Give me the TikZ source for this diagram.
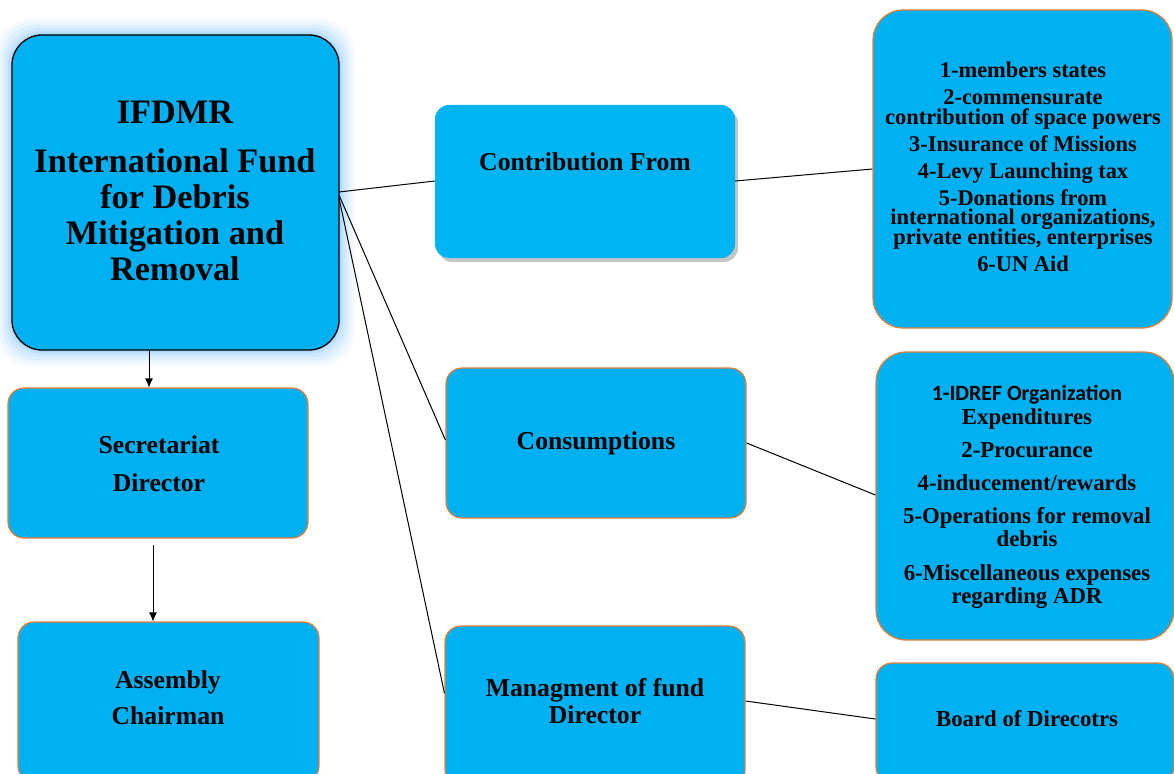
\documentclass[tikz,border=0pt]{standalone}
\usepackage{fontspec}
\setmainfont{Liberation Serif}
\newfontfamily\calib{Carlito}
\usetikzlibrary{shadows,arrows.meta}
\newcommand\tightlines{\setlength{\lineskiplimit}{-100pt}}
\definecolor{boxblue}{RGB}{0,176,240}
\definecolor{boxorange}{RGB}{237,125,49}
\definecolor{glowblue}{RGB}{150,205,250}
\tikzset{
  box/.style={draw=boxorange, line width=1.2pt, fill=boxblue, rounded corners=16pt, inner sep=0pt},
  mainbox/.style={draw=black, line width=1.3pt, fill=boxblue, rounded corners=30pt, inner sep=0pt},
  plainbox/.style={fill=boxblue!95!cyan, rounded corners=14pt, inner sep=0pt, drop shadow={shadow xshift=3pt, shadow yshift=-4pt, opacity=0.45}},
  txt/.style={align=center, font=\bfseries, inner sep=0pt},
  link/.style={line width=1pt, black},
  arr/.style={line width=0.8pt, -{Latex[length=9pt,width=8pt]}}
}
\begin{document}
\begin{tikzpicture}[x=1pt,y=-1pt]
\useasboundingbox (0,0) rectangle (1174,773);
% glow behind main box
\foreach \g/\o in {16/0.08,13/0.12,10/0.16,7/0.2,4/0.3,2/0.4}{
  \fill[glowblue, opacity=\o, rounded corners=34pt] (12-\g,35-\g) rectangle (339+\g,350+\g);
}
% boxes
\node[mainbox, minimum width=327pt, minimum height=315pt] (main) at (175.5,192.5) {};
\node[plainbox, minimum width=300pt, minimum height=153pt] (contrib) at (585,181.5) {};
\node[box, rounded corners=30pt, minimum width=299pt, minimum height=318pt] (clist) at (1022.5,169) {};
\node[box, minimum width=300pt, minimum height=150pt] (cons) at (596,443) {};
\node[box, rounded corners=30pt, minimum width=298pt, minimum height=288pt] (conslist) at (1025,496) {};
\node[box, minimum width=300pt, minimum height=160pt] (mgmt) at (595,706) {};
\node[box, minimum width=298pt, minimum height=120pt] (board) at (1025,723) {};
\node[box, minimum width=300pt, minimum height=150pt] (sec) at (158,463) {};
\node[box, minimum width=301pt, minimum height=160pt] (asm) at (168.5,702) {};
% texts
\node[txt, font=\bfseries\fontsize{34.3}{36}\selectfont\tightlines] (tmain) at (175,191)
  {IFDMR\\[13pt]International Fund\\for Debris\\Mitigation and\\Removal};
\node[txt, font=\bfseries\fontsize{25.7}{28}\selectfont] (tcontrib) at (585,162) {Contribution From};
\node[txt, font=\bfseries\fontsize{22.4}{19.5}\selectfont\tightlines] (tclist) at (1023,167)
  {1-members states\\[7.5pt]2-commensurate\\contribution of space powers\\[7.5pt]3-Insurance of Missions\\[7.5pt]4-Levy Launching tax\\[7.5pt]5-Donations from\\international organizations,\\private entities, enterprises\\[7.5pt]6-UN Aid};
\node[txt, font=\bfseries\fontsize{25.7}{28}\selectfont] (tcons) at (596,443) {Consumptions};
\node[txt, font=\bfseries\fontsize{22.8}{23.5}\selectfont\tightlines] (tconslist) at (1027,497)
  {{\calib\fontsize{21.8}{23.5}\selectfont 1-IDREF Organization}\\Expenditures\\[9.5pt]2-Procurance\\[9.5pt]4-inducement/rewards\\[9.5pt]5-Operations for removal\\debris\\[10pt]6-Miscellaneous expenses\\regarding ADR};
\node[txt, font=\bfseries\fontsize{25.7}{27}\selectfont\tightlines] (tmgmt) at (595,701) {Managment of fund\\Director};
\node[txt, font=\bfseries\fontsize{22.8}{24}\selectfont] (tboard) at (1027,719) {Board of Direcotrs};
\node[txt, font=\bfseries\fontsize{25.7}{38}\selectfont] (tsec) at (159,464) {Secretariat\\Director};
\node[txt, font=\bfseries\fontsize{25.7}{36}\selectfont] (tasm) at (168,698) {Assembly\\Chairman};
% connectors
\coordinate (m1) at (339,192);
\coordinate (m2) at (339,195);
\coordinate (m3) at (339,198);
\draw[link] (m1) -- (contrib.west |- 0,181);
\draw[link] (contrib.east |- 0,181) -- (clist.west |- 0,169);
\draw[link] (m2) -- (cons.west |- 0,440);
\draw[link] (m3) -- (mgmt.west |- 0,693);
\draw[link] (cons.east |- 0,443) -- (conslist.west |- 0,495);
\draw[link] (mgmt.east |- 0,701) -- (board.west |- 0,719);
\draw[arr] (main.south -| 149,0) -- (sec.north -| 149,0);
\coordinate (s2) at (153,545);
\draw[arr] (s2) -- (asm.north -| 153,0);
\end{tikzpicture}
\end{document}
